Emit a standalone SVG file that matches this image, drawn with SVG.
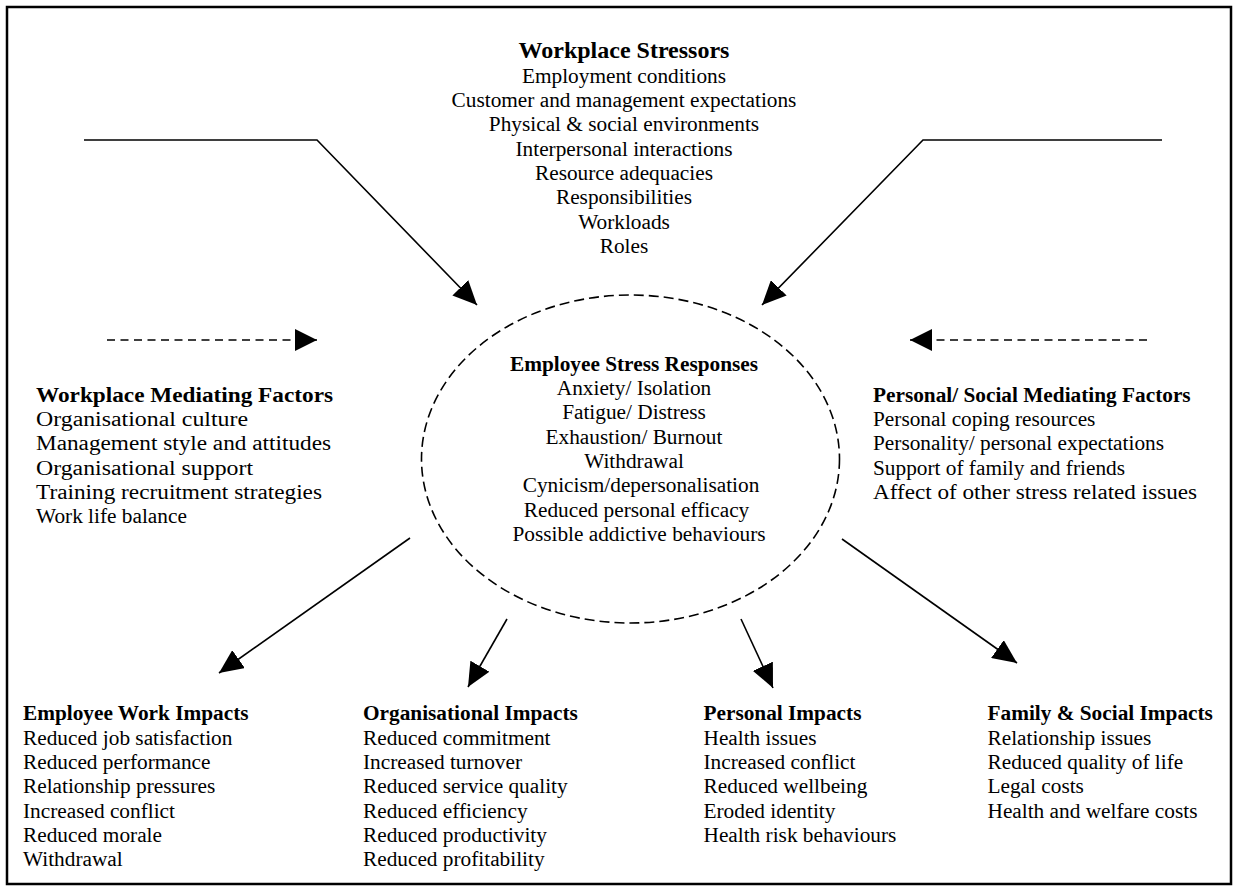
<svg xmlns="http://www.w3.org/2000/svg" width="1239" height="892" viewBox="0 0 1239 892">
<style>
text{font-family:"Liberation Serif","Times New Roman",serif;font-size:21.3px;fill:#000}
.b{font-weight:bold}
.c{text-anchor:middle}
.ln{fill:none;stroke:#000;stroke-width:1.6}
.dl{fill:none;stroke:#000;stroke-width:1.6;stroke-dasharray:8 5.5}
</style>
<defs>
<marker id="ah" markerUnits="userSpaceOnUse" viewBox="0 0 24 22" refX="24" refY="11" markerWidth="24" markerHeight="22" orient="auto">
<path d="M0,0 L24,11 L0,22 Z" fill="#000"/>
</marker>
<marker id="ah2" markerUnits="userSpaceOnUse" viewBox="0 0 22 22" refX="22" refY="11" markerWidth="22" markerHeight="22" orient="auto">
<path d="M0,0 L22,11 L0,22 Z" fill="#000"/>
</marker>
</defs>
<rect x="7" y="7" width="1224" height="877" fill="#fff" stroke="#000" stroke-width="2.5"/>
<g id="connectors">
<polyline class="ln" points="84,140 317,140 477,305" marker-end="url(#ah)"/>
<polyline class="ln" points="1162,140 923,140 762,305" marker-end="url(#ah)"/>
<line class="dl" x1="107" y1="340" x2="317" y2="340" marker-end="url(#ah2)"/>
<line class="dl" x1="1147" y1="340" x2="910" y2="340" marker-end="url(#ah2)"/>
<line class="ln" x1="410" y1="538" x2="219" y2="673" marker-end="url(#ah)"/>
<line class="ln" x1="507" y1="619" x2="468" y2="687" marker-end="url(#ah)"/>
<line class="ln" x1="741" y1="619" x2="773" y2="688" marker-end="url(#ah)"/>
<line class="ln" x1="842" y1="539" x2="1017" y2="663" marker-end="url(#ah)"/>
</g>
<g id="stressors">
<text class="b c" x="624" y="58" style="font-size:24px">Workplace Stressors</text>
<text class="c" x="624" y="82.5">Employment conditions</text>
<text class="c" x="624" y="107">Customer and management expectations</text>
<text class="c" x="624" y="131">Physical &amp; social environments</text>
<text class="c" x="624" y="155.5">Interpersonal interactions</text>
<text class="c" x="624" y="180">Resource adequacies</text>
<text class="c" x="624" y="204">Responsibilities</text>
<text class="c" x="624" y="228.5">Workloads</text>
<text class="c" x="624" y="253">Roles</text>
</g>
<g id="responses">
<ellipse cx="630.5" cy="459" rx="209" ry="164" fill="none" stroke="#000" stroke-width="1.6" stroke-dasharray="10 5"/>
<text class="b c" x="634" y="370.5">Employee Stress Responses</text>
<text class="c" x="634" y="395">Anxiety/ Isolation</text>
<text class="c" x="634" y="419">Fatigue/ Distress</text>
<text class="c" x="634" y="443.5">Exhaustion/ Burnout</text>
<text class="c" x="634" y="468">Withdrawal</text>
<text class="c" x="641" y="492">Cynicism/depersonalisation</text>
<text class="c" x="636.5" y="516.5">Reduced personal efficacy</text>
<text class="c" x="639" y="541">Possible addictive behaviours</text>
</g>
<g id="workplace-mediating">
<text class="b" x="36" y="401.5" textLength="297" lengthAdjust="spacingAndGlyphs">Workplace Mediating Factors</text>
<text x="36" y="426" textLength="212" lengthAdjust="spacingAndGlyphs">Organisational culture</text>
<text x="36" y="450" textLength="295" lengthAdjust="spacingAndGlyphs">Management style and attitudes</text>
<text x="36" y="474.5" textLength="217" lengthAdjust="spacingAndGlyphs">Organisational support</text>
<text x="36" y="498.5" textLength="286" lengthAdjust="spacingAndGlyphs">Training recruitment strategies</text>
<text x="36" y="523">Work life balance</text>
</g>
<g id="personal-mediating">
<text class="b" x="873" y="401.5">Personal/ Social Mediating Factors</text>
<text x="873" y="426">Personal coping resources</text>
<text x="873" y="450">Personality/ personal expectations</text>
<text x="873" y="474.5">Support of family and friends</text>
<text x="873" y="498.5" textLength="324" lengthAdjust="spacingAndGlyphs">Affect of other stress related issues</text>
</g>
<g id="employee-work-impacts">
<text class="b" x="23" y="720">Employee Work Impacts</text>
<text x="23" y="744.5">Reduced job satisfaction</text>
<text x="23" y="769">Reduced performance</text>
<text x="23" y="793">Relationship pressures</text>
<text x="23" y="817.5">Increased conflict</text>
<text x="23" y="842">Reduced morale</text>
<text x="23" y="866">Withdrawal</text>
</g>
<g id="organisational-impacts">
<text class="b" x="363" y="720">Organisational Impacts</text>
<text x="363" y="744.5">Reduced commitment</text>
<text x="363" y="769">Increased turnover</text>
<text x="363" y="793">Reduced service quality</text>
<text x="363" y="817.5">Reduced efficiency</text>
<text x="363" y="842">Reduced productivity</text>
<text x="363" y="866">Reduced profitability</text>
</g>
<g id="personal-impacts">
<text class="b" x="703.5" y="720">Personal Impacts</text>
<text x="703.5" y="744.5">Health issues</text>
<text x="703.5" y="769">Increased conflict</text>
<text x="703.5" y="793">Reduced wellbeing</text>
<text x="703.5" y="817.5">Eroded identity</text>
<text x="703.5" y="842">Health risk behaviours</text>
</g>
<g id="family-social-impacts">
<text class="b" x="987.5" y="720">Family &amp; Social Impacts</text>
<text x="987.5" y="744.5">Relationship issues</text>
<text x="987.5" y="769">Reduced quality of life</text>
<text x="987.5" y="793">Legal costs</text>
<text x="987.5" y="817.5">Health and welfare costs</text>
</g>
</svg>
